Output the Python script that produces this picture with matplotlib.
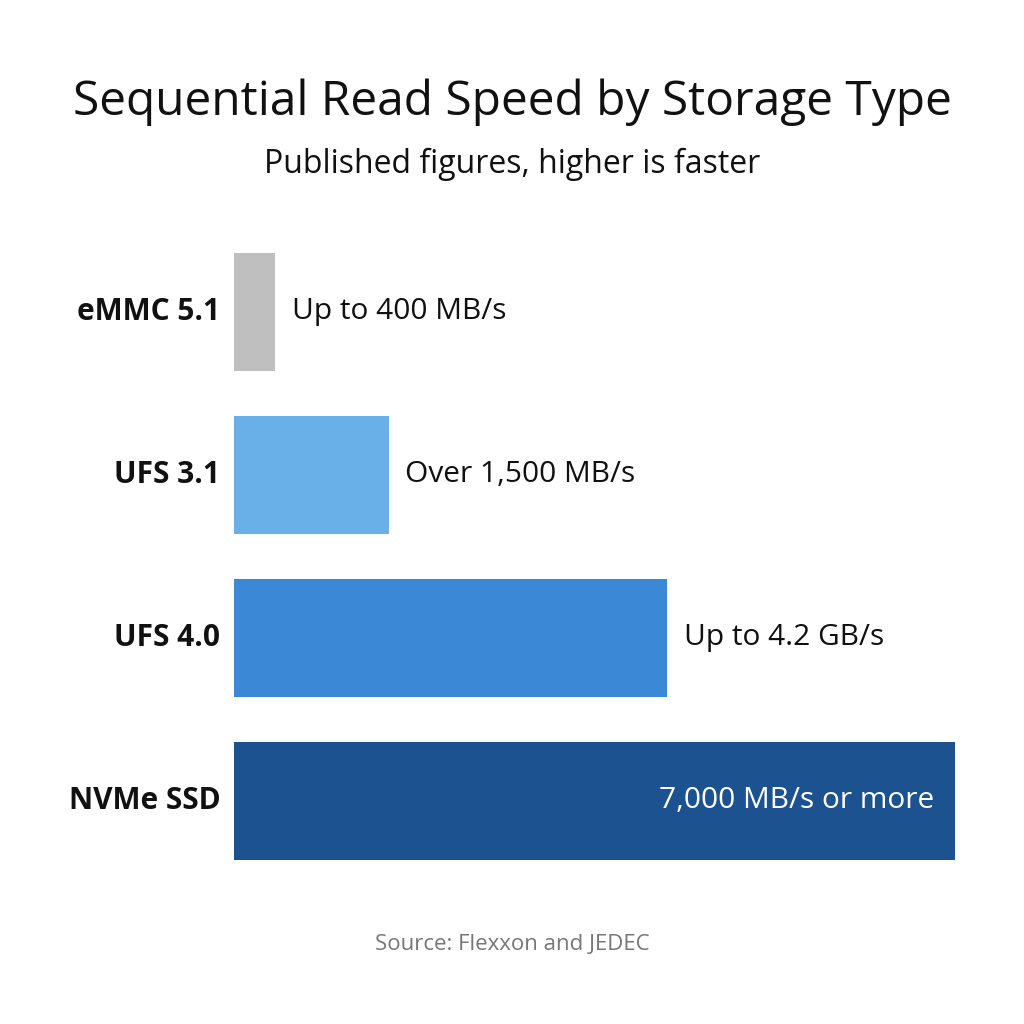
import matplotlib
matplotlib.use("Agg")
import matplotlib.pyplot as plt

# === Data ===
categories = ["eMMC 5.1", "UFS 3.1", "UFS 4.0", "NVMe SSD"]
speeds_mb = [400, 1500, 4200, 7000]
value_labels = ["Up to 400 MB/s", "Over 1,500 MB/s", "Up to 4.2 GB/s", "7,000 MB/s or more"]
colors = ["#bfbfbf", "#69b0e8", "#3a88d6", "#1d5290"]

plt.rcParams["font.family"] = ["Open Sans", "DejaVu Sans"]

fig = plt.figure(figsize=(10.24, 10.24), dpi=100)
ax = fig.add_axes([234 / 1024, 1 - 882 / 1024, 721 / 1024, 651.5 / 1024])

y = list(range(len(categories)))
ax.barh(y, speeds_mb, height=0.725, color=colors)
ax.set_xlim(0, 7000)
ax.set_ylim(len(categories) - 0.5, -0.5)

# category labels on the left
for yi, cat in zip(y, categories):
    ax.text(-0.019 * 7000, yi, cat, ha="right", va="center",
            fontsize=21.5, fontweight="bold", color="#111111")

# value labels: outside for short bars, inside for the longest
for yi, val, lab in zip(y, speeds_mb, value_labels):
    if val == max(speeds_mb):
        ax.text(val - 200, yi, lab, ha="right", va="center",
                fontsize=21.5, color="white")
    else:
        ax.text(val + 165, yi, lab, ha="left", va="center",
                fontsize=21.5, color="#111111")

ax.axis("off")

fig.text(0.5, 1 - 102 / 1024, "Sequential Read Speed by Storage Type",
         ha="center", va="center", fontsize=34.5, color="#111111")
fig.text(0.5, 1 - 164 / 1024, "Published figures, higher is faster",
         ha="center", va="center", fontsize=23, color="#111111")
fig.text(0.5, 1 - 945 / 1024, "Source: Flexxon and JEDEC",
         ha="center", va="center", fontsize=16, color="#777777")

fig.savefig("out.png", dpi=100, facecolor="white")
